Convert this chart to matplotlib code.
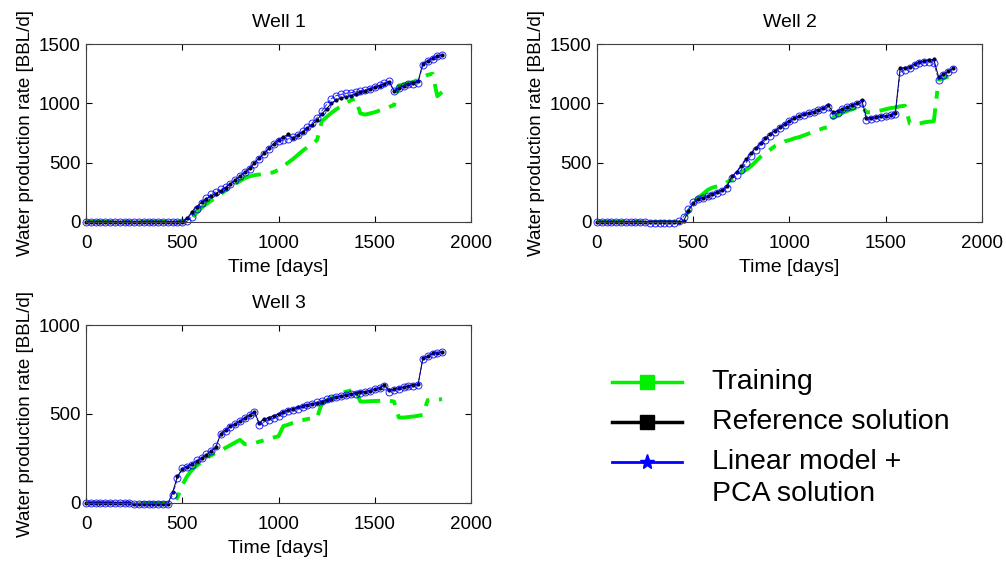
import numpy as np
import matplotlib.pyplot as plt
from matplotlib.lines import Line2D

plt.rcParams.update(
    {
        "font.family": ["Liberation Sans", "DejaVu Sans"],
        "font.size": 13.5,
        "axes.linewidth": 0.8,
        "axes.edgecolor": "#404040",
        "xtick.direction": "in",
        "ytick.direction": "in",
        "xtick.top": True,
        "ytick.right": True,
        "xtick.major.size": 4,
        "ytick.major.size": 4,
        "xtick.major.pad": 9.5,
        "ytick.major.pad": 4,
    }
)

# sampling times [days], one value per 25 days
TIME = np.arange(0, 1875, 25)

ZEROS_21 = [0] * 21

# ---- Well 1 ----
W1_TRAIN = ZEROS_21 + [
    0, 30, 80, 120, 150, 180, 205, 235, 265, 290, 320, 345, 370, 385, 395,
    400, 405, 410, 420, 440, 470, 500, 530, 565, 600, 630, 660, 690, 850,
    885, 920, 950, 975, 1000, 1025, 1040, 915, 905, 915, 925, 940, 955, 970,
    985, 1150, 1160, 1170, 1180, 1200, 1220, 1240, 1250, 1060, 1095,
]
W1_REF = ZEROS_21 + [
    30, 85, 130, 165, 195, 220, 240, 265, 290, 320, 355, 385, 420, 455, 500,
    540, 580, 620, 660, 695, 715, 740, 705, 735, 760, 790, 820, 860, 910,
    955, 1000, 1030, 1045, 1055, 1065, 1080, 1095, 1108, 1120, 1135, 1150,
    1165, 1180, 1105, 1130, 1150, 1160, 1170, 1185, 1335, 1360, 1380, 1395,
    1410,
]
W1_PCA = ZEROS_21 + [
    5, 45, 110, 160, 200, 235, 255, 275, 295, 320, 350, 385, 420, 450, 490,
    530, 575, 615, 655, 685, 690, 700, 715, 735, 765, 800, 835, 880, 935,
    990, 1040, 1065, 1075, 1085, 1090, 1095, 1105, 1112, 1125, 1140, 1155,
    1170, 1190, 1100, 1130, 1148, 1160, 1165, 1175, 1325, 1355, 1375, 1395,
    1410,
]

# ---- Well 2 ----
W2_TRAIN = [0] * 18 + [
    20, 90, 155, 205, 235, 270, 290, 300, 315, 335, 355, 380, 420, 440, 470,
    510, 550, 580, 610, 640, 660, 680, 690, 705, 715, 730, 745, 760, 775,
    790, 800, 875, 900, 920, 935, 950, 965, 980, 925, 925, 930, 940, 950,
    960, 965, 975, 980, 830, 825, 830, 840, 845, 850, 1200, 1210, 1225,
    np.nan,
]
W2_REF = [0] * 18 + [
    10, 90, 160, 190, 205, 220, 235, 255, 270, 300, 385, 420, 470, 530, 580,
    625, 665, 705, 740, 770, 800, 830, 855, 875, 895, 910, 920, 930, 945,
    960, 990, 925, 935, 955, 970, 985, 1000, 1030, 880, 880, 885, 890, 895,
    905, 920, 1295, 1300, 1310, 1330, 1345, 1355, 1365, 1370, 1220, 1245,
    1270, 1295,
]
W2_PCA = [0] * 11 + [-5] * 6 + [
    5, 45, 110, 170, 195, 205, 215, 225, 245, 260, 290, 370, 400, 440, 500,
    560, 610, 650, 690, 725, 760, 790, 820, 850, 870, 890, 905, 920, 930,
    940, 955, 965, 900, 920, 950, 965, 980, 995, 1005, 860, 870, 878, 885,
    890, 900, 910, 1260, 1285, 1300, 1320, 1340, 1345, 1350, 1340, 1200,
    1240, 1265, 1290,
]

# ---- Well 3 ----
W3_TRAIN = [0] * 19 + [
    30, 100, 150, 185, 210, 230, 250, 268, 282, 295, 310, 325, 340, 355,
    330, 332, 335, 345, 352, 360, 368, 375, 432, 440, 450, 458, 465, 472,
    475, 480, 560, 575, 590, 605, 615, 625, 632, 636, 570, 570, 572, 573,
    574, 575, 575, 570, 480, 480, 483, 486, 490, 495, 578, 580, 582, 583,
]
W3_REF = [0] * 10 + [-5] * 8 + [
    60, 150, 190, 205, 220, 235, 250, 270, 290, 315, 390, 410, 430, 445, 460,
    480, 495, 510, 450, 470, 480, 490, 500, 512, 520, 530, 538, 546, 552,
    558, 563, 570, 580, 587, 594, 600, 607, 613, 618, 622, 626, 632, 640,
    648, 662, 635, 638, 645, 652, 658, 662, 666, 815, 825, 840, 845, 850,
]
W3_PCA = [0] * 10 + [-5] * 8 + [
    45, 140, 195, 205, 215, 240, 255, 275, 290, 320, 385, 405, 425, 445, 460,
    475, 495, 510, 440, 455, 465, 475, 490, 505, 515, 525, 530, 540, 548,
    555, 565, 575, 582, 590, 595, 600, 605, 610, 612, 618, 625, 632, 640,
    648, 660, 625, 635, 642, 650, 655, 660, 665, 810, 825, 835, 842, 850,
]

WELLS = [
    ("Well 1", W1_TRAIN, W1_REF, W1_PCA, 1500),
    ("Well 2", W2_TRAIN, W2_REF, W2_PCA, 1500),
    ("Well 3", W3_TRAIN, W3_REF, W3_PCA, 1000),
]

GREEN = "#00f000"
BLUE = "#0000ff"

AX_POS = [
    [0.0855, 0.605, 0.3827, 0.3167],
    [0.5934, 0.605, 0.3827, 0.3167],
    [0.0855, 0.105, 0.3827, 0.3167],
]


def draw_well(ax, title, train, ref, pca, ymax):
    ax.plot(TIME, train, color=GREEN, linestyle="-.", linewidth=2.8,
            dashes=(7, 2.5, 2, 2.5))
    ax.plot(TIME, ref, color="black", linestyle="-", linewidth=0.7,
            marker=".", markersize=4, clip_on=False)
    ax.plot(TIME, pca, color=BLUE, linestyle="--", linewidth=0.7,
            marker="o", markersize=5, markerfacecolor="none",
            markeredgewidth=0.7, alpha=0.85, clip_on=False)

    ax.set_xlim(0, 2000)
    ax.set_ylim(0, ymax)
    ax.set_xticks([0, 500, 1000, 1500, 2000])
    ax.set_yticks(np.arange(0, ymax + 1, 500))
    ax.set_title(title, fontsize=14, pad=12)
    ax.set_xlabel("Time [days]", fontsize=14, labelpad=5)
    ax.set_ylabel("Water production rate [BBL/d]", fontsize=13.5, labelpad=3)


def draw_legend(fig):
    lax = fig.add_axes([0.55, 0.08, 0.45, 0.28])
    lax.set_xlim(0, 1)
    lax.set_ylim(0, 1)
    lax.axis("off")
    entries = [
        (GREEN, "s", "Training", 0.86, 2.5),
        ("black", "s", "Reference solution", 0.605, 2.5),
        (BLUE, "*", "Linear model +\nPCA solution", 0.35, 2.0),
    ]
    for color, marker, label, y, lw in entries:
        lax.add_line(Line2D([0.130, 0.285], [y, y], color=color, linewidth=lw))
        lax.add_line(Line2D([0.2075], [y], color=color, marker=marker,
                            markersize=10 if marker == "s" else 11,
                            linestyle="none"))
        if "\n" in label:
            lax.text(0.350, y + 0.085, label, fontsize=20.5, va="top",
                     linespacing=1.3, transform=lax.transAxes)
        else:
            lax.text(0.350, y, label, fontsize=20.5, va="center",
                     transform=lax.transAxes)


def main():
    fig = plt.figure(figsize=(10.06, 5.62), dpi=100)
    for pos, (title, train, ref, pca, ymax) in zip(AX_POS, WELLS):
        ax = fig.add_axes(pos)
        draw_well(ax, title, train, ref, pca, ymax)
    draw_legend(fig)
    fig.savefig("out.png", dpi=100)


if __name__ == "__main__":
    main()
